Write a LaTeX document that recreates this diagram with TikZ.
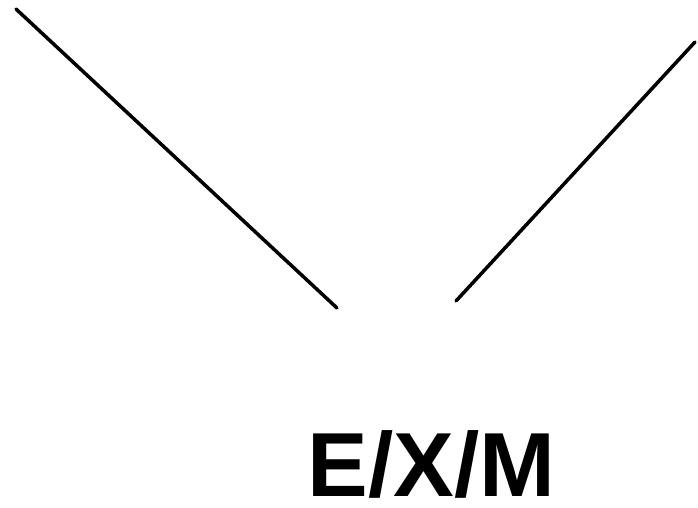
\documentclass[tikz,border=0pt]{standalone}
\usepackage{fontspec}
\setmainfont{Liberation Sans}
\tikzset{stroke/.style={line width=3.5pt,line cap=round,black}}
\begin{document}
\begin{tikzpicture}[x=1pt,y=-1pt]
\useasboundingbox (0,0) rectangle (698,507);
\coordinate (l1) at (16,9);
\coordinate (l2) at (337,308);
\coordinate (r1) at (695,42);
\coordinate (r2) at (456,301);
\draw[stroke] (l1) -- (l2);
\draw[stroke] (r1) -- (r2);
\node[anchor=base,inner sep=0pt,text depth=0pt,font=\fontsize{91}{91}\selectfont\bfseries] (t) at (431.5,496) {E/X/M};
\end{tikzpicture}
\end{document}
